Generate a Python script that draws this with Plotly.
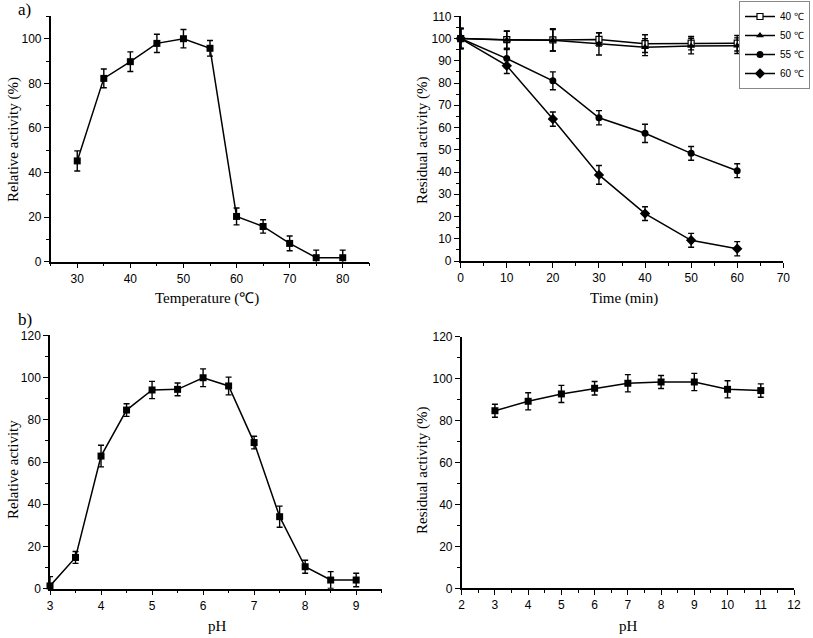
import plotly.graph_objects as go

# ---- data ----
temp_c = [30, 35, 40, 45, 50, 55, 60, 65, 70, 75, 80]
temp_act = [45.2, 82.2, 89.7, 97.9, 100, 95.7, 20.3, 15.8, 8.2, 1.8, 1.8]
temp_err = [4.5, 4.2, 4.4, 4.1, 4.1, 3.5, 3.8, 3.0, 3.3, 3.4, 3.4]

time_min = [0, 10, 20, 30, 40, 50, 60]
res_40 = [100, 99.5, 99.4, 99.6, 97.7, 97.9, 97.9]
err_40 = [4.5, 3.8, 5.0, 3.0, 4.0, 3.0, 3.5]
res_50 = [100, 99.4, 99.2, 97.6, 96.1, 96.6, 96.8]
err_50 = [4.5, 4.0, 4.8, 5.0, 3.8, 3.5, 3.5]
res_55 = [100, 91.0, 81.0, 64.4, 57.4, 48.4, 40.6]
err_55 = [4.5, 4.0, 4.0, 3.2, 4.1, 3.1, 3.1]
res_60 = [100, 87.8, 63.8, 38.7, 21.3, 9.3, 5.5]
err_60 = [4.5, 3.5, 3.2, 4.2, 3.1, 3.1, 3.2]

ph_act_x = [3, 3.5, 4, 4.5, 5, 5.5, 6, 6.5, 7, 7.5, 8, 8.5, 9]
ph_act = [1.3, 14.8, 62.8, 84.6, 94.1, 94.4, 99.9, 96.0, 69.2, 34.1, 10.4, 4.1, 4.1]
ph_act_err = [4.4, 2.8, 5.1, 3.0, 4.1, 3.0, 4.2, 4.2, 3.0, 5.0, 3.1, 4.0, 3.2]

ph_stab_x = [3, 4, 5, 6, 7, 8, 9, 10, 11]
ph_stab = [84.7, 89.2, 92.7, 95.4, 97.8, 98.4, 98.4, 94.9, 94.3]
ph_stab_err = [3.1, 4.1, 4.1, 3.2, 4.1, 3.1, 4.1, 4.1, 3.2]

W, H = 813, 638
SANS = "Liberation Sans, Arial, sans-serif"
SERIF = "Liberation Serif, Times New Roman, serif"


def xd(a, b):
    return [a / W, b / W]


def yd(top, bottom):
    return [(H - bottom) / H, (H - top) / H]


def axis(rng, dtick, mdtick, domain, anchor):
    return dict(
        range=rng, domain=domain, anchor=anchor, automargin=False,
        showline=True, linecolor="black", linewidth=1.5, mirror=False,
        ticks="outside", ticklen=5, tickwidth=1.3, tickcolor="black",
        tick0=0, dtick=dtick,
        minor=dict(ticks="outside", ticklen=3, tickwidth=1.1, tickcolor="black", dtick=mdtick),
        showgrid=False, zeroline=False,
        tickfont=dict(family=SANS, size=12, color="black"),
    )


def err(vals):
    return dict(type="data", array=vals, visible=True, color="black", thickness=1.4, width=3)


def label(text, x, y, angle=0, size=15):
    return dict(text=text, x=x / W, y=1 - y / H, xref="paper", yref="paper", showarrow=False,
                xanchor="center", yanchor="middle", textangle=angle,
                font=dict(family=SERIF, size=size, color="black"))


fig = go.Figure()

# Panel a-left: temperature optimum
fig.add_trace(go.Scatter(x=temp_c, y=temp_act, error_y=err(temp_err), mode="lines+markers",
                         line=dict(color="black", width=1.5),
                         marker=dict(symbol="square", size=7, color="black"),
                         xaxis="x", yaxis="y", showlegend=False, cliponaxis=False))

# Panel a-right: thermal stability
series = [("40 ℃", res_40, err_40, dict(symbol="square", size=6, color="white", line=dict(color="black", width=1.2))),
          ("50 ℃", res_50, err_50, dict(symbol="triangle-up", size=7, color="black")),
          ("55 ℃", res_55, err_55, dict(symbol="circle", size=7, color="black")),
          ("60 ℃", res_60, err_60, dict(symbol="diamond", size=8, color="black"))]
for name, vals, e, mk in series:
    fig.add_trace(go.Scatter(x=time_min, y=vals, error_y=err(e), mode="lines+markers", name=name,
                             line=dict(color="black", width=1.5), marker=mk,
                             xaxis="x2", yaxis="y2", showlegend=True, cliponaxis=False))

# Panel b-left: pH optimum
fig.add_trace(go.Scatter(x=ph_act_x, y=ph_act, error_y=err(ph_act_err), mode="lines+markers",
                         line=dict(color="black", width=1.5),
                         marker=dict(symbol="square", size=7, color="black"),
                         xaxis="x3", yaxis="y3", showlegend=False, cliponaxis=False))

# Panel b-right: pH stability
fig.add_trace(go.Scatter(x=ph_stab_x, y=ph_stab, error_y=err(ph_stab_err), mode="lines+markers",
                         line=dict(color="black", width=1.5),
                         marker=dict(symbol="square", size=7, color="black"),
                         xaxis="x4", yaxis="y4", showlegend=False, cliponaxis=False))

fig.update_layout(
    width=W, height=H,
    margin=dict(l=0, r=0, t=0, b=0, autoexpand=False),
    paper_bgcolor="white", plot_bgcolor="white",
    xaxis=axis([25, 85], 10, 5, xd(50.7, 369.3), "y"),
    yaxis=axis([0, 110], 20, 10, yd(16.4, 261.7), "x"),
    xaxis2=axis([0, 70], 10, 5, xd(460.7, 783.3), "y2"),
    yaxis2=axis([0, 110], 10, 5, yd(16.3, 261.0), "x2"),
    xaxis3=axis([3, 9.5], 1, 0.5, xd(50.0, 381.7), "y3"),
    yaxis3=axis([0, 120], 20, 10, yd(335.3, 588.7), "x3"),
    xaxis4=axis([2, 12], 1, 0.5, xd(461.7, 794.0), "y4"),
    yaxis4=axis([0, 120], 20, 10, yd(336.7, 588.3), "x4"),
    legend=dict(x=810 / W, xanchor="right", y=1 - 1 / H, yanchor="top",
                bordercolor="#888888", borderwidth=1, bgcolor="white",
                font=dict(family=SANS, size=10, color="black"),
                itemwidth=30, tracegroupgap=0),
    annotations=[
        dict(text="a)", x=16 / W, y=1 - 10 / H, xref="paper", yref="paper", showarrow=False,
             xanchor="left", yanchor="middle", font=dict(family=SERIF, size=17, color="black")),
        dict(text="b)", x=16 / W, y=1 - 320 / H, xref="paper", yref="paper", showarrow=False,
             xanchor="left", yanchor="middle", font=dict(family=SERIF, size=17, color="black")),
        label("Temperature (℃)", 207, 298),
        label("Time (min)", 624, 298),
        label("pH", 217, 626),
        label("pH", 628, 626),
        label("Relative activity (%)", 13, 140, -90),
        label("Residual activity (%)", 422, 140, -90),
        label("Relative activity", 13, 470, -90),
        label("Residual activity (%)", 422, 470, -90),
    ],
)

fig.write_html("out.html", config={"displayModeBar": False},
               post_script="document.body.style.margin='0';document.body.style.overflow='hidden';")
